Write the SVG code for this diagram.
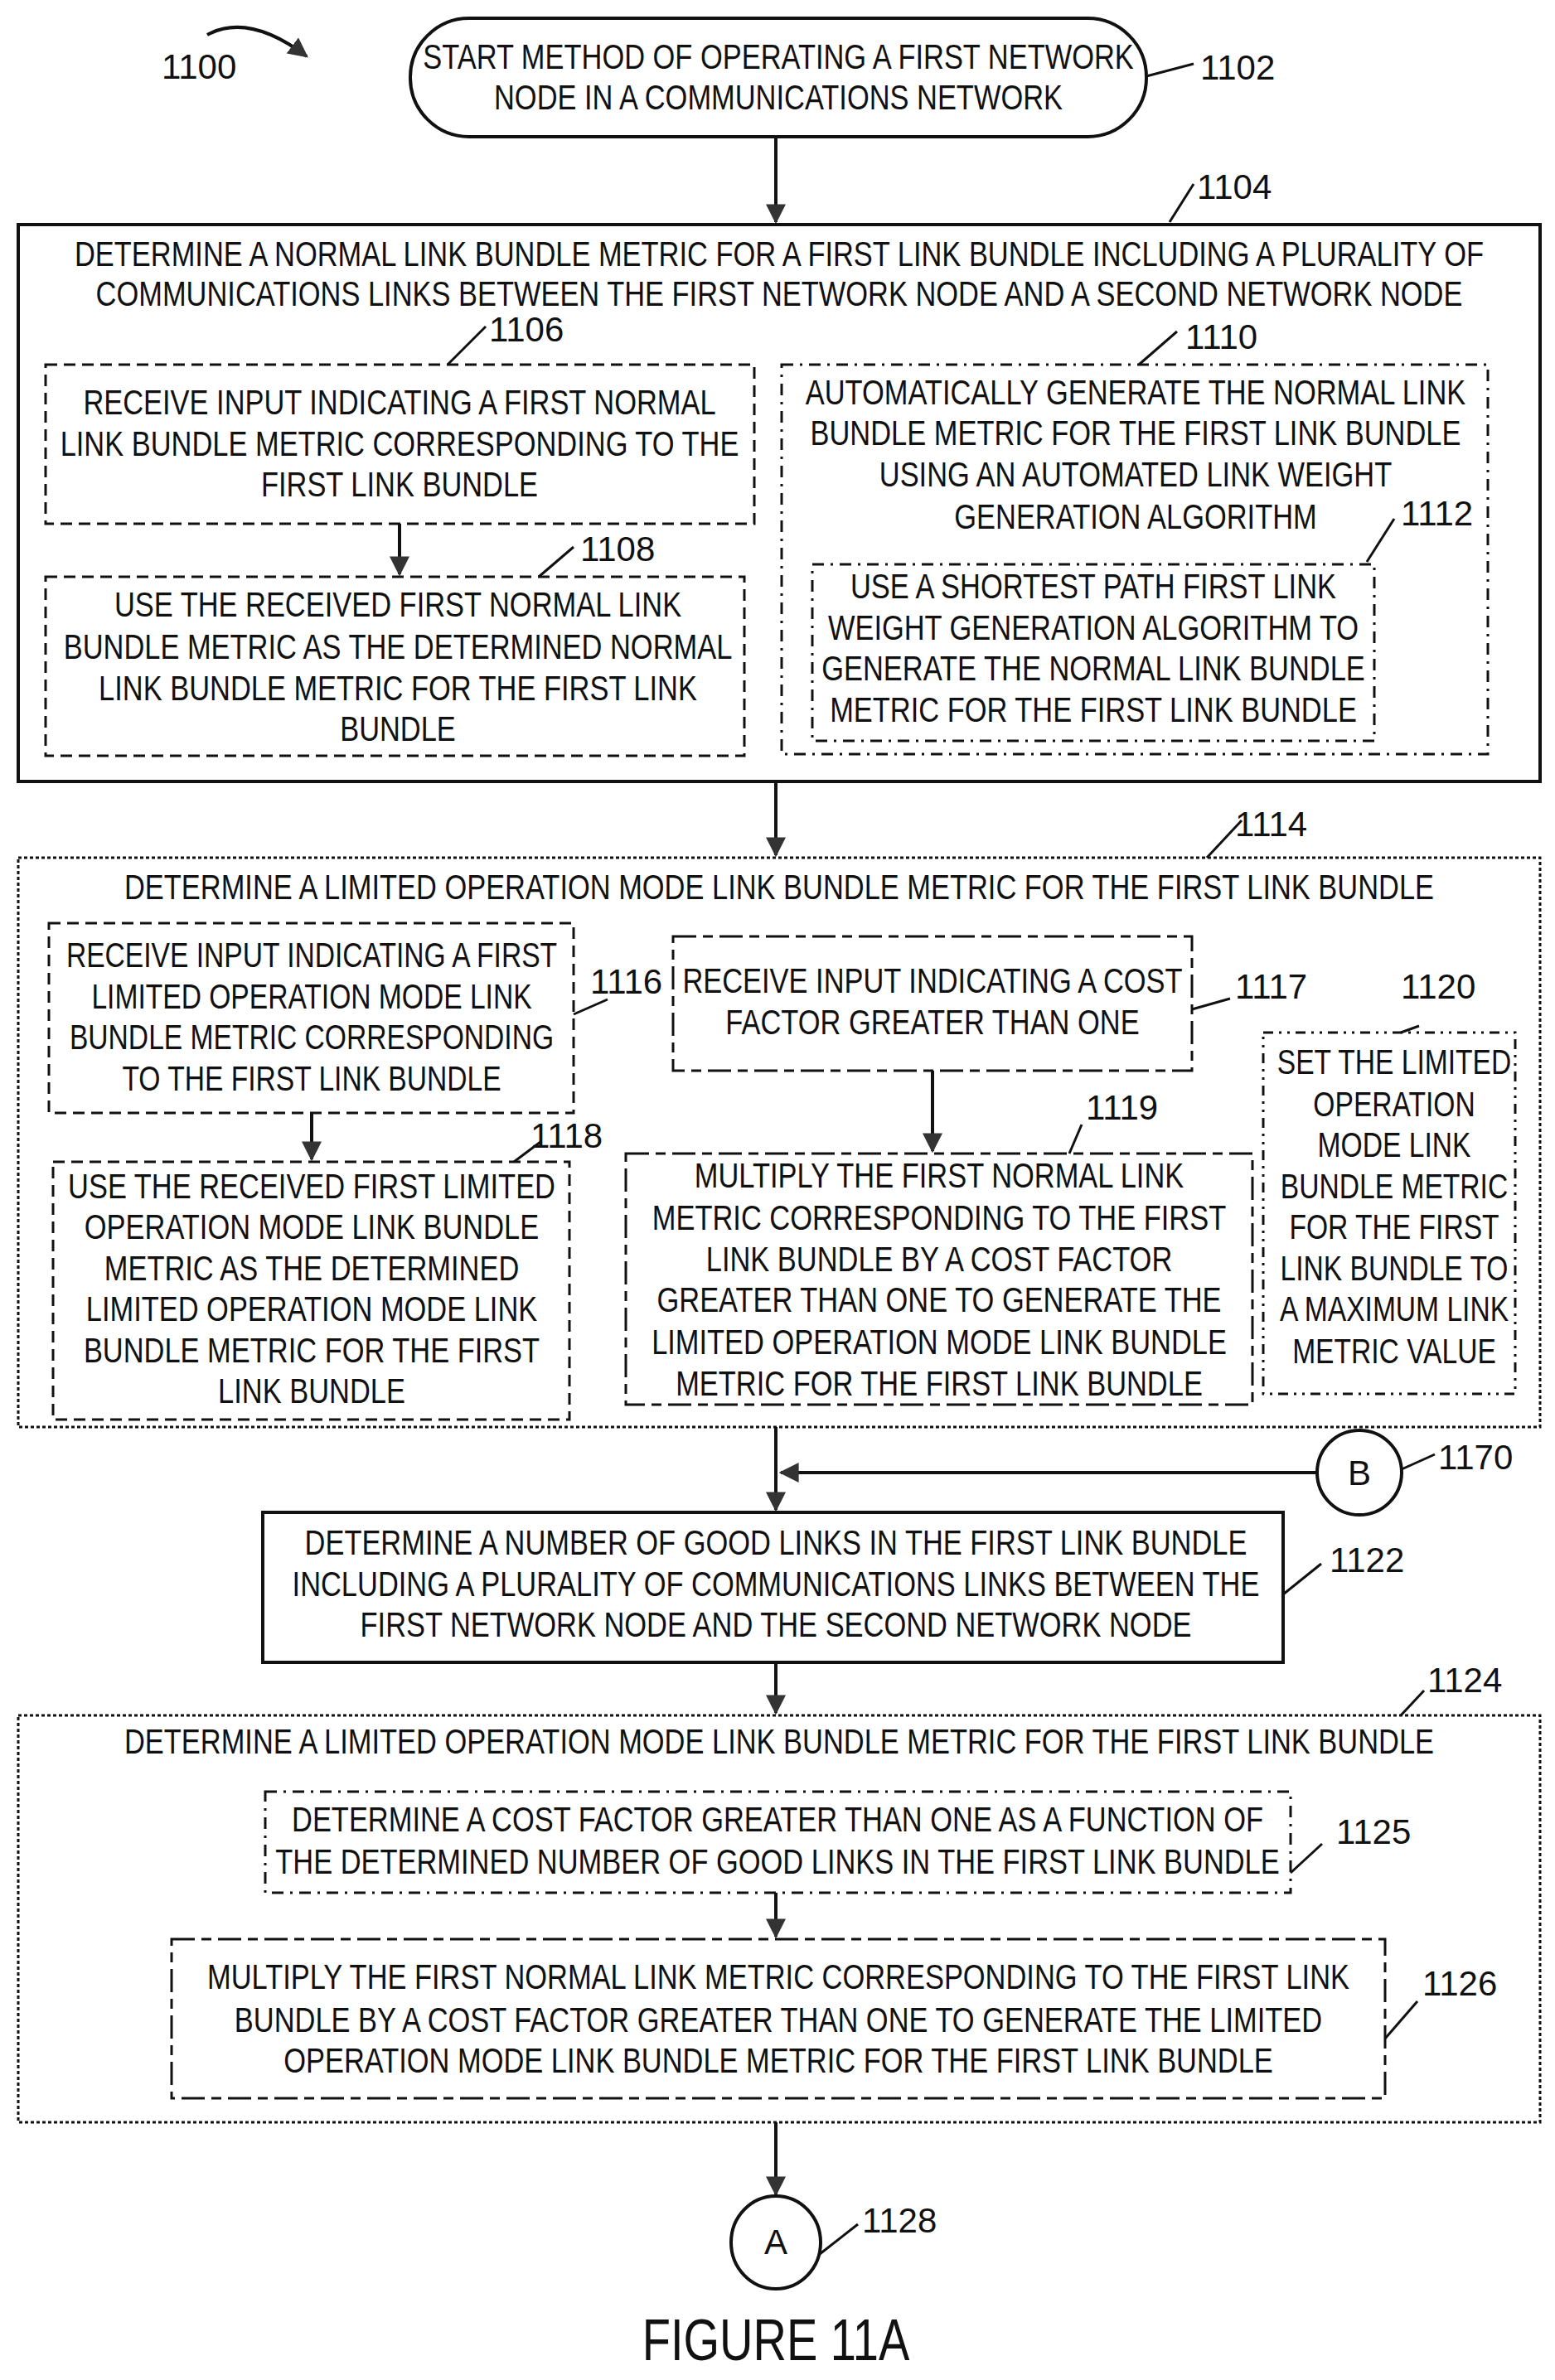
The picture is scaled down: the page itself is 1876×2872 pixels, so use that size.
<svg xmlns="http://www.w3.org/2000/svg" width="1876" height="2872" viewBox="0 0 1876 2872">
<style>
text{font-family:"Liberation Sans",Arial,sans-serif;font-size:42px;fill:#111;text-anchor:middle}
.lb text{text-anchor:start}
.box{fill:none;stroke:#111;stroke-width:3}
.thick{stroke-width:4}
.dash{stroke-dasharray:14 8}
.dd{stroke-dasharray:14 8 3 8}
.dot{stroke-dasharray:4 3}
.ls{stroke-dasharray:28 8 12 8}
.ddd{stroke-dasharray:12 7 3 7 3 7}
.ln{fill:none;stroke:#111;stroke-width:4}
.ld{fill:none;stroke:#111;stroke-width:3}
</style>
<defs>
<marker id="ah" viewBox="0 0 20 20" refX="18" refY="10" markerWidth="6" markerHeight="6" orient="auto" markerUnits="strokeWidth">
<path d="M0,0 L20,10 L0,20 Z" fill="#333"/>
</marker>
</defs>

<g id="connectors">
<path class="ln" d="M936,165 V268" marker-end="url(#ah)"/>
<path class="ln" d="M482,632 V693" marker-end="url(#ah)"/>
<path class="ln" d="M936,943 V1032" marker-end="url(#ah)"/>
<path class="ln" d="M376,1343 V1399" marker-end="url(#ah)"/>
<path class="ln" d="M1125,1292 V1389" marker-end="url(#ah)"/>
<path class="ln" d="M936,1722 V1822" marker-end="url(#ah)"/>
<path class="ln" d="M1589,1777 H942" marker-end="url(#ah)"/>
<path class="ln" d="M936,2006 V2067" marker-end="url(#ah)"/>
<path class="ln" d="M936,2284 V2337" marker-end="url(#ah)"/>
<path class="ln" d="M936,2561 V2648" marker-end="url(#ah)"/>
<path class="ln" d="M250,42 Q300,15 370,68" marker-end="url(#ah)"/>
</g>

<g id="labels" class="lb">
<text x="195" y="95">1100</text>
<path class="ld" d="M1383,92 L1440,77"/><text x="1448" y="96">1102</text>
<path class="ld" d="M1411,268 L1440,222"/><text x="1444" y="240">1104</text>
<path class="ld" d="M540,440 L586,394"/><text x="590" y="412">1106</text>
<path class="ld" d="M650,696 L692,660"/><text x="700" y="677">1108</text>
<path class="ld" d="M1374,440 L1420,400"/><text x="1430" y="421">1110</text>
<path class="ld" d="M1649,678 L1682,626"/><text x="1690" y="634">1112</text>
<path class="ld" d="M1456,1035 L1498,990"/><text x="1490" y="1009">1114</text>
<path class="ld" d="M692,1224 L733,1206"/><text x="712" y="1199">1116</text>
<path class="ld" d="M1438,1218 L1484,1205"/><text x="1490" y="1205">1117</text>
<path class="ld" d="M620,1402 L652,1378"/><text x="640" y="1385">1118</text>
<path class="ld" d="M1290,1392 L1305,1357"/><text x="1310" y="1351">1119</text>
<path class="ld" d="M1690,1246 L1712,1238"/><text x="1690" y="1205">1120</text>
<path class="ld" d="M1691,1773 L1731,1755"/><text x="1735" y="1773">1170</text>
<path class="ld" d="M1548,1924 L1594,1887"/><text x="1604" y="1897">1122</text>
<path class="ld" d="M1690,2070 L1718,2040"/><text x="1722" y="2042">1124</text>
<path class="ld" d="M1557,2260 L1595,2225"/><text x="1612" y="2225">1125</text>
<path class="ld" d="M1671,2460 L1710,2415"/><text x="1716" y="2408">1126</text>
<path class="ld" d="M989,2720 L1035,2684"/><text x="1040" y="2694">1128</text>
</g>

<g id="n1102">
<rect class="box thick" x="495" y="22" width="888" height="143" rx="71"/>
<g transform="translate(939,0) scale(0.82,1)"><text x="0" y="83">START METHOD OF OPERATING A FIRST NETWORK</text><text x="0" y="132">NODE IN A COMMUNICATIONS NETWORK</text></g>
</g>

<g id="n1104">
<rect class="box thick" x="22" y="271" width="1836" height="672"/>
<g transform="translate(940,0) scale(0.82,1)"><text x="0" y="321">DETERMINE A NORMAL LINK BUNDLE METRIC FOR A FIRST LINK BUNDLE INCLUDING A PLURALITY OF</text><text x="0" y="369">COMMUNICATIONS LINKS BETWEEN THE FIRST NETWORK NODE AND A SECOND NETWORK NODE</text></g>
</g>
<g id="n1106">
<rect class="box dash" x="55" y="440" width="855" height="192"/>
<g transform="translate(482,0) scale(0.82,1)"><text x="0" y="500">RECEIVE INPUT INDICATING A FIRST NORMAL</text><text x="0" y="550">LINK BUNDLE METRIC CORRESPONDING TO THE</text><text x="0" y="599">FIRST LINK BUNDLE</text></g>
</g>
<g id="n1108">
<rect class="box dash" x="55" y="696" width="843" height="216"/>
<g transform="translate(480,0) scale(0.82,1)"><text x="0" y="744">USE THE RECEIVED FIRST NORMAL LINK</text><text x="0" y="795">BUNDLE METRIC AS THE DETERMINED NORMAL</text><text x="0" y="845">LINK BUNDLE METRIC  FOR THE FIRST LINK</text><text x="0" y="894">BUNDLE</text></g>
</g>
<g id="n1110">
<rect class="box dd" x="943" y="440" width="852" height="470"/>
<g transform="translate(1370,0) scale(0.82,1)"><text x="0" y="488">AUTOMATICALLY GENERATE THE NORMAL LINK</text><text x="0" y="537">BUNDLE METRIC FOR THE FIRST LINK BUNDLE</text><text x="0" y="587">USING AN AUTOMATED LINK WEIGHT</text><text x="0" y="638">GENERATION ALGORITHM</text></g>
</g>
<g id="n1112">
<rect class="box dd" x="980" y="681" width="678" height="213"/>
<g transform="translate(1319,0) scale(0.82,1)"><text x="0" y="722">USE A SHORTEST PATH FIRST LINK</text><text x="0" y="772">WEIGHT GENERATION ALGORITHM TO</text><text x="0" y="821">GENERATE THE NORMAL LINK BUNDLE</text><text x="0" y="871">METRIC FOR THE FIRST LINK BUNDLE</text></g>
</g>

<g id="n1114">
<rect class="box dot" x="22" y="1035" width="1836" height="687"/>
<g transform="translate(940,0) scale(0.82,1)"><text x="0" y="1085">DETERMINE A LIMITED  OPERATION MODE LINK BUNDLE METRIC FOR THE FIRST LINK BUNDLE</text></g>
</g>
<g id="n1116">
<rect class="box dash" x="59" y="1114" width="633" height="229"/>
<g transform="translate(376,0) scale(0.8,1)"><text x="0" y="1167">RECEIVE INPUT INDICATING A FIRST</text><text x="0" y="1217">LIMITED OPERATION MODE LINK</text><text x="0" y="1266">BUNDLE METRIC CORRESPONDING</text><text x="0" y="1316">TO THE FIRST LINK BUNDLE</text></g>
</g>
<g id="n1118">
<rect class="box dash" x="64" y="1402" width="623" height="311"/>
<g transform="translate(376,0) scale(0.82,1)"><text x="0" y="1446">USE THE RECEIVED FIRST LIMITED</text><text x="0" y="1495">OPERATION MODE LINK BUNDLE</text><text x="0" y="1545">METRIC AS THE DETERMINED</text><text x="0" y="1594">LIMITED OPERATION MODE LINK</text><text x="0" y="1644">BUNDLE METRIC  FOR THE FIRST</text><text x="0" y="1693">LINK BUNDLE</text></g>
</g>
<g id="n1117">
<rect class="box ls" x="812" y="1130" width="626" height="162"/>
<g transform="translate(1125,0) scale(0.82,1)"><text x="0" y="1198">RECEIVE INPUT INDICATING A COST</text><text x="0" y="1248">FACTOR GREATER THAN ONE</text></g>
</g>
<g id="n1119">
<rect class="box ls" x="755" y="1392" width="756" height="303"/>
<g transform="translate(1133,0) scale(0.82,1)"><text x="0" y="1433">MULTIPLY THE FIRST NORMAL LINK</text><text x="0" y="1484">METRIC CORRESPONDING TO THE  FIRST</text><text x="0" y="1534">LINK BUNDLE BY A COST FACTOR</text><text x="0" y="1583">GREATER THAN ONE TO GENERATE THE</text><text x="0" y="1634">LIMITED OPERATION MODE LINK BUNDLE</text><text x="0" y="1684">METRIC FOR THE FIRST LINK BUNDLE</text></g>
</g>
<g id="n1120">
<rect class="box ddd" x="1524" y="1246" width="304" height="436"/>
<g transform="translate(1682,0) scale(0.8,1)"><text x="0" y="1296">SET THE LIMITED</text><text x="0" y="1347">OPERATION</text><text x="0" y="1396">MODE LINK</text><text x="0" y="1446">BUNDLE METRIC</text><text x="0" y="1495">FOR THE FIRST</text><text x="0" y="1545">LINK BUNDLE TO</text><text x="0" y="1594">A MAXIMUM LINK</text><text x="0" y="1645">METRIC VALUE</text></g>
</g>

<g id="n1170">
<circle class="box thick" cx="1640" cy="1777" r="51"/>
<text x="1640" y="1792">B</text>
</g>

<g id="n1122">
<rect class="box thick" x="317" y="1825" width="1231" height="181"/>
<g transform="translate(936,0) scale(0.82,1)"><text x="0" y="1876">DETERMINE A NUMBER OF GOOD LINKS IN THE FIRST LINK BUNDLE</text><text x="0" y="1926">INCLUDING A PLURALITY OF COMMUNICATIONS LINKS BETWEEN THE</text><text x="0" y="1975">FIRST NETWORK NODE AND THE SECOND NETWORK NODE</text></g>
</g>

<g id="n1124">
<rect class="box dot" x="22" y="2070" width="1836" height="491"/>
<g transform="translate(940,0) scale(0.82,1)"><text x="0" y="2116">DETERMINE A LIMITED  OPERATION MODE  LINK BUNDLE METRIC FOR THE FIRST LINK BUNDLE</text></g>
</g>
<g id="n1125">
<rect class="box dd" x="320" y="2162" width="1237" height="122"/>
<g transform="translate(938,0) scale(0.82,1)"><text x="0" y="2210">DETERMINE A COST FACTOR GREATER THAN ONE AS A FUNCTION OF</text><text x="0" y="2261">THE DETERMINED NUMBER OF GOOD LINKS IN THE FIRST LINK BUNDLE</text></g>
</g>
<g id="n1126">
<rect class="box ls" x="207" y="2340" width="1464" height="192"/>
<g transform="translate(939,0) scale(0.82,1)"><text x="0" y="2400">MULTIPLY THE FIRST NORMAL LINK METRIC CORRESPONDING TO THE  FIRST LINK</text><text x="0" y="2452">BUNDLE BY A COST FACTOR GREATER THAN ONE TO GENERATE THE LIMITED</text><text x="0" y="2501">OPERATION MODE LINK BUNDLE METRIC FOR THE FIRST LINK BUNDLE</text></g>
</g>

<g id="n1128">
<ellipse class="box thick" cx="936" cy="2706" rx="54" ry="56"/>
<text x="936" y="2720">A</text>
</g>

<g transform="translate(936,0) scale(0.8,1)"><text x="0" y="2848" style="font-size:70px">FIGURE 11A</text></g>
</svg>
